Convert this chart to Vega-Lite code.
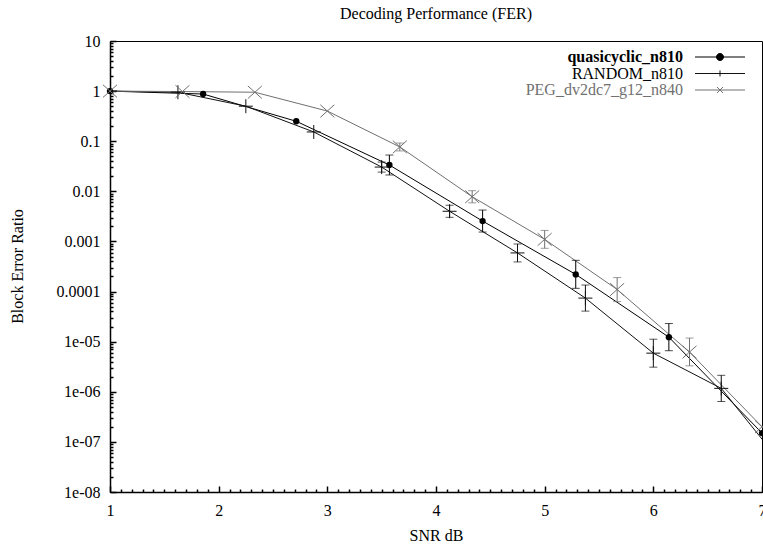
{
  "$schema": "https://vega.github.io/schema/vega-lite/v6.json",
  "width": 652,
  "height": 451,
  "autosize": {"type": "none"},
  "padding": {"left": 110, "top": 41, "right": 1, "bottom": 54},
  "background": "white",
  "config": {
    "font": "Liberation Serif",
    "view": {"stroke": "#000", "strokeWidth": 1},
    "axis": {"labelFont": "Liberation Serif", "titleFont": "Liberation Serif", "labelColor": "#000", "titleColor": "#000", "domainColor": "#000", "domainWidth": 1.5, "grid": false, "labelFontSize": 16, "titleFontSize": 16, "titleFontWeight": "normal", "labelOverlap": false, "labelFlush": false, "labelBound": false}
  },
  "title": {"text": "Decoding Performance (FER)", "font": "Liberation Serif", "fontSize": 16, "fontWeight": "normal", "color": "#000", "offset": 11, "anchor": "middle"},
  "resolve": {"axis": {"x": "independent", "y": "independent"}},
  "data": {"values": [
    {"series": "quasicyclic_n810", "snr": 1, "fer": 1},
    {"series": "quasicyclic_n810", "snr": 1.857, "fer": 0.875},
    {"series": "quasicyclic_n810", "snr": 2.714, "fer": 0.25},
    {"series": "quasicyclic_n810", "snr": 3.571, "fer": 0.0335, "lo": 0.0212, "hi": 0.053},
    {"series": "quasicyclic_n810", "snr": 4.429, "fer": 0.00255, "lo": 0.00154, "hi": 0.00423},
    {"series": "quasicyclic_n810", "snr": 5.286, "fer": 0.00022, "lo": 0.000116, "hi": 0.00042},
    {"series": "quasicyclic_n810", "snr": 6.143, "fer": 0.0000123, "lo": 0.0000066, "hi": 0.000023},
    {"series": "quasicyclic_n810", "snr": 7, "fer": 0.00000015},
    {"series": "RANDOM_n810", "snr": 1, "fer": 1},
    {"series": "RANDOM_n810", "snr": 1.625, "fer": 0.95},
    {"series": "RANDOM_n810", "snr": 2.25, "fer": 0.5},
    {"series": "RANDOM_n810", "snr": 2.875, "fer": 0.153},
    {"series": "RANDOM_n810", "snr": 3.5, "fer": 0.0305, "lo": 0.0242, "hi": 0.0384},
    {"series": "RANDOM_n810", "snr": 4.125, "fer": 0.004, "lo": 0.00303, "hi": 0.00528},
    {"series": "RANDOM_n810", "snr": 4.75, "fer": 0.00059, "lo": 0.00039, "hi": 0.00089},
    {"series": "RANDOM_n810", "snr": 5.375, "fer": 0.000074, "lo": 0.0000407, "hi": 0.000135},
    {"series": "RANDOM_n810", "snr": 6, "fer": 0.0000059, "lo": 0.0000031, "hi": 0.0000112},
    {"series": "RANDOM_n810", "snr": 6.625, "fer": 0.00000117, "lo": 0.00000064, "hi": 0.00000213},
    {"series": "RANDOM_n810", "snr": 7.25, "fer": 0.000000024},
    {"series": "PEG_dv2dc7_g12_n840", "snr": 1, "fer": 1},
    {"series": "PEG_dv2dc7_g12_n840", "snr": 1.667, "fer": 0.98},
    {"series": "PEG_dv2dc7_g12_n840", "snr": 2.333, "fer": 0.95},
    {"series": "PEG_dv2dc7_g12_n840", "snr": 3, "fer": 0.4},
    {"series": "PEG_dv2dc7_g12_n840", "snr": 3.667, "fer": 0.077, "lo": 0.064, "hi": 0.092},
    {"series": "PEG_dv2dc7_g12_n840", "snr": 4.333, "fer": 0.0078, "lo": 0.0059, "hi": 0.0103},
    {"series": "PEG_dv2dc7_g12_n840", "snr": 5, "fer": 0.0011, "lo": 0.00073, "hi": 0.00166},
    {"series": "PEG_dv2dc7_g12_n840", "snr": 5.667, "fer": 0.00011, "lo": 0.000063, "hi": 0.00019},
    {"series": "PEG_dv2dc7_g12_n840", "snr": 6.333, "fer": 0.0000062, "lo": 0.0000033, "hi": 0.0000118},
    {"series": "PEG_dv2dc7_g12_n840", "snr": 7, "fer": 0.0000002}
  ]},
  "layer": [
    {
      "mark": {"type": "line", "strokeWidth": 1, "clip": true},
      "encoding": {
        "x": {"field": "snr", "type": "quantitative", "scale": {"domain": [1, 7], "nice": false, "zero": false},
          "axis": {"orient": "bottom", "title": "SNR dB", "titleX": 326, "titleY": 43, "titleBaseline": "middle",
            "values": [1, 2, 3, 4, 5, 6, 7], "ticks": true, "tickColor": "#000000", "tickWidth": 1.5, "tickSize": -6, "labelPadding": 16}},
        "y": {"field": "fer", "type": "quantitative", "scale": {"type": "log", "domain": [0.00000001, 10], "nice": false},
          "axis": {"orient": "left", "title": "Block Error Ratio", "titleX": -93, "titleY": 225, "titleBaseline": "middle", "titleAngle": -90,
            "values": [1e-8, 1e-7, 1e-6, 1e-5, 0.0001, 0.001, 0.01, 0.1, 1, 10],
            "labelExpr": "datum.value < 0.00005 ? '1e-0' + toString(-round(log(datum.value)/LN10)) : toString(datum.value)",
            "ticks": true, "tickColor": "#000000", "tickWidth": 1.5, "tickSize": -6, "labelPadding": 16}},
        "color": {"field": "series", "type": "nominal",
          "scale": {"domain": ["quasicyclic_n810", "RANDOM_n810", "PEG_dv2dc7_g12_n840"], "range": ["#000000", "#111111", "#707070"]},
          "legend": {"title": null, "orient": "none", "legendX": 602, "legendY": 8, "padding": 0, "offset": 0,
            "symbolSize": 100, "rowPadding": 0.5, "labelFont": "Liberation Serif", "labelFontSize": 16, "labelLimit": 300,
            "encode": {
              "labels": {"update": {
                "x": {"value": -29}, "align": {"value": "right"},
                "fontWeight": {"signal": "datum.value === 'quasicyclic_n810' ? 'bold' : 'normal'"},
                "fill": {"signal": "datum.value === 'PEG_dv2dc7_g12_n840' ? '#707070' : '#000000'"}}},
              "symbols": {"update": {
                "shape": {"signal": "datum.value === 'quasicyclic_n810' ? 'M-5,0L5,0M-0.7,0A0.7,0.7 0 1,0 0.7,0A0.7,0.7 0 1,0 -0.7,0Z' : (datum.value === 'RANDOM_n810' ? 'M-5,0L5,0M0,-0.6L0,0.6' : 'M-5,0L5,0M-0.6,-0.6L0.6,0.6M-0.6,0.6L0.6,-0.6')"},
                "size": {"value": 100},
                "strokeWidth": {"value": 1},
                "fill": {"signal": "datum.value === 'quasicyclic_n810' ? '#000000' : 'transparent'"},
                "stroke": {"signal": "datum.value === 'PEG_dv2dc7_g12_n840' ? '#707070' : '#333333'"},
                "opacity": {"value": 1}}}
            }}}
      }
    },
    {
      "transform": [{"filter": "isValid(datum.lo)"}],
      "mark": {"type": "rule", "strokeWidth": 1},
      "encoding": {
        "x": {"field": "snr", "type": "quantitative",
          "axis": {"orient": "bottom", "title": null, "labels": false, "domain": false, "ticks": true, "tickColor": "#000000", "tickWidth": 1.5, "tickSize": -3,
            "values": [1.1,1.2,1.3,1.4,1.5,1.6,1.7,1.8,1.9,2.1,2.2,2.3,2.4,2.5,2.6,2.7,2.8,2.9,3.1,3.2,3.3,3.4,3.5,3.6,3.7,3.8,3.9,4.1,4.2,4.3,4.4,4.5,4.6,4.7,4.8,4.9,5.1,5.2,5.3,5.4,5.5,5.6,5.7,5.8,5.9,6.1,6.2,6.3,6.4,6.5,6.6,6.7,6.8,6.9]}},
        "y": {"field": "lo", "type": "quantitative",
          "axis": {"orient": "left", "title": null, "labels": false, "domain": false, "ticks": true, "tickColor": "#000000", "tickWidth": 1.5, "tickSize": -3,
            "values": [2e-8,3e-8,4e-8,5e-8,6e-8,7e-8,8e-8,9e-8,2e-7,3e-7,4e-7,5e-7,6e-7,7e-7,8e-7,9e-7,2e-6,3e-6,4e-6,5e-6,6e-6,7e-6,8e-6,9e-6,2e-5,3e-5,4e-5,5e-5,6e-5,7e-5,8e-5,9e-5,0.0002,0.0003,0.0004,0.0005,0.0006,0.0007,0.0008,0.0009,0.002,0.003,0.004,0.005,0.006,0.007,0.008,0.009,0.02,0.03,0.04,0.05,0.06,0.07,0.08,0.09,0.2,0.3,0.4,0.5,0.6,0.7,0.8,0.9,2,3,4,5,6,7,8,9]}},
        "y2": {"field": "hi"},
        "color": {"field": "series", "type": "nominal"}
      }
    },
    {
      "transform": [{"filter": "isValid(datum.lo)"}],
      "mark": {"type": "tick", "orient": "horizontal", "size": 8, "thickness": 1},
      "encoding": {
        "x": {"field": "snr", "type": "quantitative", "axis": null},
        "y": {"field": "lo", "type": "quantitative", "axis": null},
        "color": {"field": "series", "type": "nominal"}
      }
    },
    {
      "transform": [{"filter": "isValid(datum.hi)"}],
      "mark": {"type": "tick", "orient": "horizontal", "size": 8, "thickness": 1},
      "encoding": {
        "x": {"field": "snr", "type": "quantitative", "axis": null},
        "y": {"field": "hi", "type": "quantitative", "axis": null},
        "color": {"field": "series", "type": "nominal"}
      }
    },
    {
      "transform": [{"filter": "datum.series === 'quasicyclic_n810'"}],
      "mark": {"type": "point", "shape": "circle", "size": 40, "filled": true, "color": "#000000", "opacity": 1},
      "encoding": {
        "x": {"field": "snr", "type": "quantitative", "axis": null},
        "y": {"field": "fer", "type": "quantitative", "axis": null}
      }
    },
    {
      "transform": [{"filter": "datum.series === 'RANDOM_n810'"}],
      "mark": {"type": "point", "shape": "M-1,0L1,0M0,-1L0,1", "size": 196, "filled": false, "stroke": "#111111", "strokeWidth": 1, "opacity": 1, "clip": true},
      "encoding": {
        "x": {"field": "snr", "type": "quantitative", "axis": null},
        "y": {"field": "fer", "type": "quantitative", "axis": null}
      }
    },
    {
      "transform": [{"filter": "datum.series === 'PEG_dv2dc7_g12_n840'"}],
      "mark": {"type": "point", "shape": "M-1,-0.9L1,0.9M-1,0.9L1,-0.9", "size": 196, "filled": false, "stroke": "#707070", "strokeWidth": 1, "opacity": 1},
      "encoding": {
        "x": {"field": "snr", "type": "quantitative", "axis": null},
        "y": {"field": "fer", "type": "quantitative", "axis": null}
      }
    }
  ]
}
